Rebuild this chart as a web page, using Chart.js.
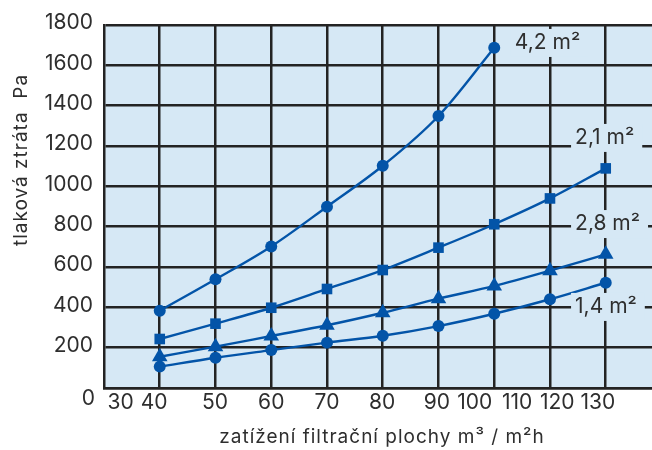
<!DOCTYPE html>
<html lang="cs">
<head>
<meta charset="utf-8">
<script src="https://cdn.jsdelivr.net/npm/chart.js@4/dist/chart.umd.min.js"></script>
<style>
  html, body { margin: 0; padding: 0; background: #fff; }
  #wrap { width: 652px; height: 450px; }
</style>
</head>
<body>
<div id="wrap"><canvas id="chart" width="652" height="450"></canvas></div>
<script>
// zatížení filtrační plochy (m³/m²h) – každý bod leží na jedné svislé čáře mřížky
const loads = [40, 50, 60, 70, 80, 90, 100, 120, 130];
const xTickLabels = ['30', '40', '50', '60', '70', '80', '90', '100', '110', '120', '130'];
const seriesNames = ['4,2 m²', '2,1 m²', '2,8 m²', '1,4 m²'];

// tlaková ztráta (Pa)
const loss42 = [383, 539, 702, 899, 1102, 1349, 1687];
const loss21 = [243, 319, 398, 491, 585, 696, 812, 940, 1089];
const loss28 = [155, 205, 258, 311, 373, 443, 506, 582, 663];
const loss14 = [106, 150, 188, 225, 259, 307, 368, 440, 522];

const blue = '#0354a8';
const plotBg = '#d6e8f5';
const gridColor = '#232323';
const textColor = '#2e2e2e';
const FONT = 'Inter, "Noto Sans", sans-serif';

// popisky osy x nejsou pod čarami mřížky, ale natěsnané jako v originále
const xLabelPos = [0.3, 0.9, 1.99, 3.0, 4.0, 4.99, 5.97, 6.65, 7.41, 8.13, 8.86];
// kotvy popisků křivek (hodnoty os)
const nameAt = [[7.37, 1711], [8.45, 1240], [8.45, 813], [8.45, 402]];

const toPoints = arr => arr.map((v, i) => ({ x: i + 1, y: v }));

const serie = (name, arr, style, r) => ({
    label: name,
    data: toPoints(arr),
    borderColor: blue,
    backgroundColor: blue,
    borderWidth: 2.4,
    pointStyle: style,
    pointRadius: r,
    pointHoverRadius: r,
    pointBorderWidth: 0,
    cubicInterpolationMode: 'monotone',
    fill: false
});

const paper = {
    id: 'paper',
    beforeDraw(chart) {
        const { ctx, chartArea: a } = chart;
        ctx.save();
        ctx.fillStyle = plotBg;
        ctx.fillRect(a.left, a.top, a.right - a.left, a.bottom - a.top);
        ctx.restore();
    },
    afterDraw(chart) {
        const { ctx, scales: { x, y } } = chart;
        ctx.save();
        ctx.textBaseline = 'middle';

        // názvy křivek, podklad přerušuje mřížku
        ctx.font = `21px ${FONT}`;
        ctx.textAlign = 'left';
        seriesNames.forEach((name, i) => {
            const px = x.getPixelForValue(nameAt[i][0]);
            const py = y.getPixelForValue(nameAt[i][1]);
            const w = ctx.measureText(name).width;
            ctx.fillStyle = plotBg;
            ctx.fillRect(px - 4, py - 14, w + 12, 28);
            ctx.fillStyle = textColor;
            ctx.fillText(name, px, py);
        });

        // nula u počátku sedí níž než ostatní popisky
        ctx.font = `21px ${FONT}`;
        ctx.textAlign = 'right';
        ctx.fillText('0', y.right - 9, y.getPixelForValue(0) + 11);

        // názvy os
        ctx.font = `19px ${FONT}`;
        ctx.letterSpacing = '1px';
        ctx.textAlign = 'center';
        ctx.fillText('zatížení filtrační plochy m³ / m²h', 382, 437);
        ctx.translate(21, 160);
        ctx.rotate(-Math.PI / 2);
        ctx.fillText('tlaková ztráta  Pa', 0, 0);
        ctx.restore();
    }
};

new Chart(document.getElementById('chart').getContext('2d'), {
    type: 'line',
    data: {
        datasets: [
            serie(seriesNames[0], loss42, 'circle', 6),
            serie(seriesNames[1], loss21, 'rect', 7.5),
            serie(seriesNames[2], loss28, 'triangle', 9),
            serie(seriesNames[3], loss14, 'circle', 6)
        ]
    },
    options: {
        responsive: false,
        animation: false,
        layout: { autoPadding: false, padding: { top: 25, right: 0, bottom: 0, left: 0 } },
        plugins: {
            legend: { display: false },
            tooltip: {
                callbacks: {
                    title: (items) => `${loads[items[0].dataIndex]} m³/m²h`,
                    label: (c) => `${c.dataset.label}: ${c.parsed.y} Pa`
                }
            }
        },
        scales: {
            x: {
                type: 'linear',
                min: 0,
                max: 9.83,
                weight: 0,
                afterBuildTicks: (s) => { s.ticks = loads.map((_, i) => ({ value: i + 1 })); },
                afterFit: (s) => { s.height = 0; },
                ticks: { display: false },
                grid: { color: gridColor, lineWidth: 2.5, drawTicks: false },
                border: { display: true, color: gridColor, width: 2.5 }
            },
            xl: {
                type: 'linear',
                position: 'bottom',
                min: 0,
                max: 9.83,
                weight: 1,
                afterBuildTicks: (s) => { s.ticks = xLabelPos.map(v => ({ value: v })); },
                afterFit: (s) => { s.height = 62; },
                grid: { display: false, drawTicks: false },
                border: { display: false },
                ticks: {
                    autoSkip: false,
                    maxRotation: 0,
                    padding: 2,
                    color: textColor,
                    font: { family: FONT, size: 21 },
                    callback: (v, i) => xTickLabels[i]
                }
            },
            y: {
                min: 0,
                max: 1800,
                afterFit: (s) => { s.width = 104; },
                ticks: {
                    stepSize: 200,
                    padding: 11,
                    labelOffset: -2,
                    color: textColor,
                    font: { family: FONT, size: 21 },
                    callback: (v) => (v === 0 ? '' : v)
                },
                grid: { color: gridColor, lineWidth: 2.5, drawTicks: false },
                border: { display: true, color: gridColor, width: 2.5 }
            }
        }
    },
    plugins: [paper]
});
</script>
</body>
</html>
